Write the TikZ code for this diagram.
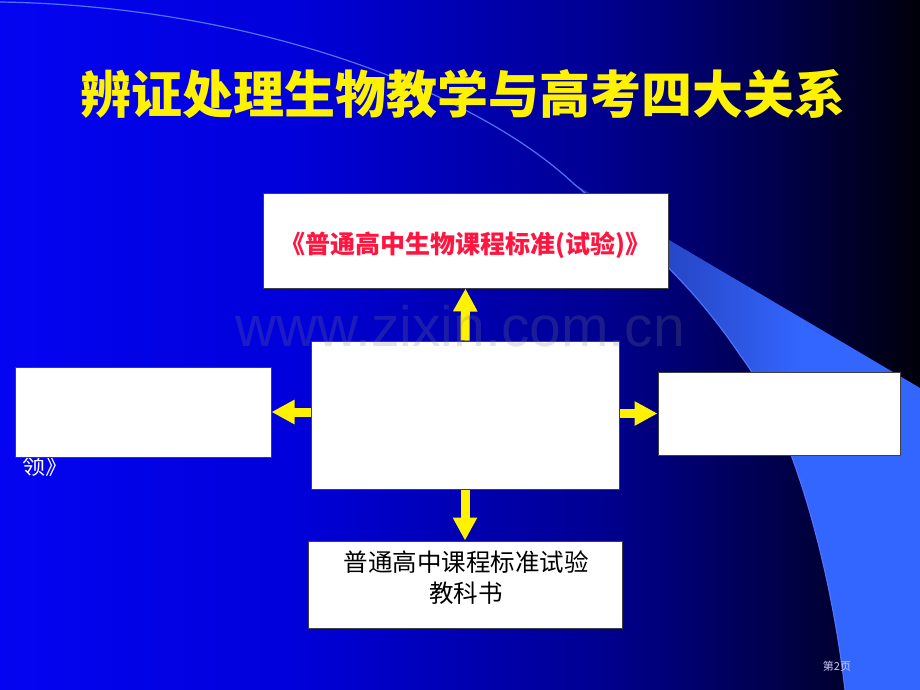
\documentclass[tikz,border=0pt]{standalone}
\usepackage{fontspec}
\newfontfamily\cjk{Noto Sans CJK SC}
\newfontfamily\wmfont{Liberation Sans}
\usetikzlibrary{arrows.meta}
\definecolor{bgA}{RGB}{4,4,242}
\definecolor{bgB}{RGB}{0,0,218}
\definecolor{bgC}{RGB}{0,0,145}
\definecolor{bgD}{RGB}{0,0,70}
\definecolor{bgE}{RGB}{0,0,10}
\definecolor{wedA}{RGB}{28,50,165}
\definecolor{wedM}{RGB}{42,80,215}
\definecolor{wedB}{RGB}{51,102,255}
\definecolor{arcline}{RGB}{80,115,245}
\definecolor{redtxt}{RGB}{255,22,64}
\pgfdeclarehorizontalshading{slidebg}{100bp}{color(0bp)=(bgA); color(25bp)=(bgA); color(41bp)=(bgB); color(57.6bp)=(bgC); color(68bp)=(bgD); color(75bp)=(bgE); color(100bp)=(bgE)}
\pgfdeclarehorizontalshading{wedgeshade}{100bp}{color(0bp)=(wedA); color(25bp)=(wedA); color(45bp)=(wedM); color(58bp)=(wedB); color(100bp)=(wedB)}
\tikzset{
  box/.style={draw=black!75, fill=white, line width=1pt, inner sep=0pt},
  conn/.style={draw=yellow, line width=9pt, -{Triangle[width=23pt,length=23pt,fill=yellow]}},
  titletxt/.style={font=\cjk\bfseries\fontsize{51}{55}\selectfont, inner sep=0pt},
}
\begin{document}
\begin{tikzpicture}[x=1pt,y=-1pt]
\useasboundingbox (0,0) rectangle (920,690);
% background
\shade[shading=slidebg] (0,0) rectangle (920,690);
% decorative arc and wedge
\shade[shading=wedgeshade]
  (574,184) -- (920,388) -- (920,690) -- (845,690)
  .. controls (830,560) and (790,420) .. (740,355)
  .. controls (690,280) and (630,230) .. cycle;
\draw[arcline, line width=1.2pt] (0,2) .. controls (260,6) and (480,95) .. (574,184)
  .. controls (630,230) and (690,280) .. (740,355)
  .. controls (790,420) and (830,560) .. (845,690);
% title
\node[titletxt, text=yellow] (title) at (463,94) {辨证处理生物教学与高考四大关系};
% partially hidden white text
\node[font=\cjk\fontsize{23}{26}\selectfont, text=white, inner sep=0pt] (lefttail) at (45,466) {领》};
% boxes
\node[box, minimum width=405pt, minimum height=95pt] (top) at (465.5,240.5) {};
\node[box, minimum width=308pt, minimum height=148pt] (center) at (465,415) {};
\node[box, minimum width=256pt, minimum height=90pt] (left) at (143,412) {};
\node[box, minimum width=242pt, minimum height=83pt] (right) at (779,413.5) {};
\node[box, minimum width=314pt, minimum height=87pt] (bottom) at (465,584.5) {};
% box texts
\node[font=\cjk\bfseries\fontsize{25}{28}\selectfont, text=redtxt, inner sep=0pt] (toptext) at (465,245) {《普通高中生物课程标准(试验)》};
\node[font=\cjk\fontsize{24.5}{31}\selectfont, text=black, align=center, inner sep=0pt] (bottomtext) at (466,578) {普通高中课程标准试验\\教科书};
% arrows
\draw[conn] (center.north) -- (top.south);
\draw[conn] (center.south) -- (bottom.north);
\draw[conn] (center.west |- left.east) -- (left.east);
\draw[conn] (center.east |- right.west) -- (right.west);
% watermark
\node[font=\wmfont\fontsize{57}{60}\selectfont, text=gray, opacity=0.22, anchor=base, inner sep=0pt] (watermark) at (460,346) {www.zixin.com.cn};
% page number
\node[font=\cjk\fontsize{11}{13}\selectfont, text=white!80!blue, inner sep=0pt] (pagenum) at (837,666) {第2页};
\end{tikzpicture}
\end{document}
